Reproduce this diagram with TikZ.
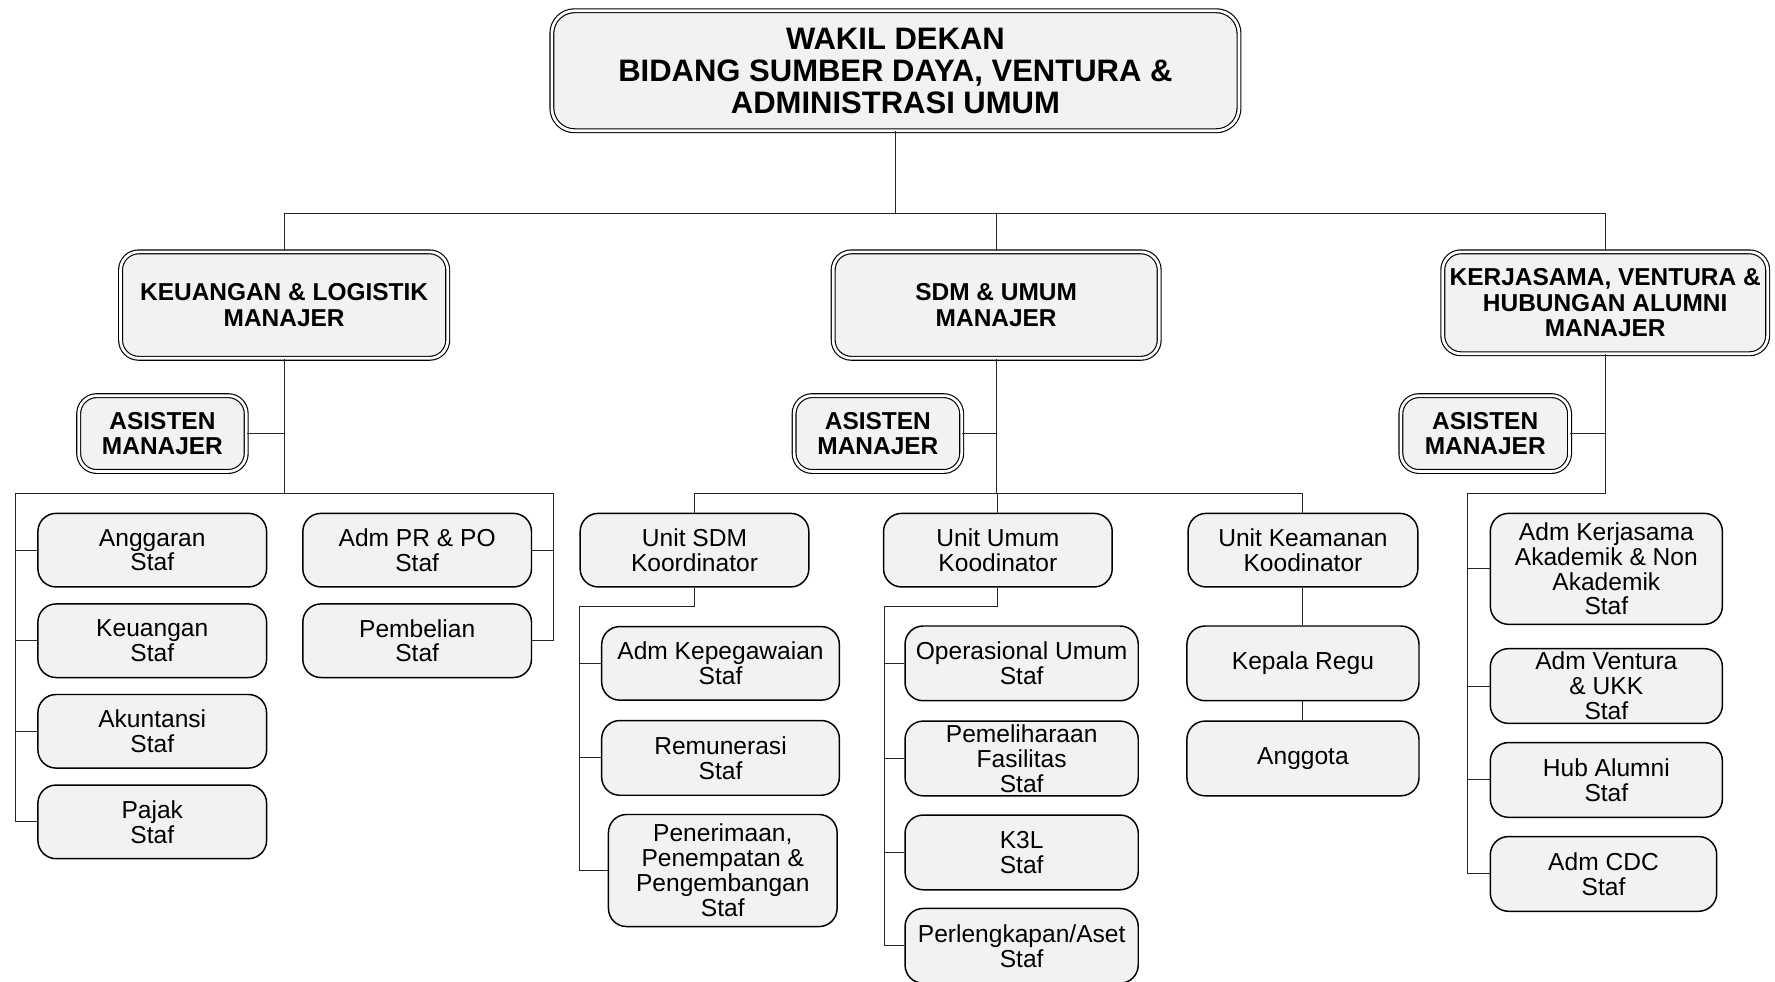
\documentclass[tikz,border=0pt]{standalone}
\usepackage{fontspec}
\setmainfont{Liberation Sans}
\definecolor{boxfill}{RGB}{242,242,242}
\begin{document}
\begin{tikzpicture}[x=1pt,y=-1pt,
  base/.style={draw=black, fill=boxfill, rounded corners=16pt, align=center, inner sep=0pt},
  staff/.style={base, line width=1.3pt, minimum width=202pt, minimum height=65pt, font=\fontsize{21.7}{22}\selectfont},
  dbl/.style={base, line width=1pt, double=white, double distance=2.4pt, font=\fontsize{21.6}{22.5}\selectfont\bfseries},
  conn/.style={draw=black!85, line width=0.9pt}]
\useasboundingbox (0,0) rectangle (1568,867);

% top
\node[dbl, minimum width=607pt, minimum height=106pt, rounded corners=20pt, font=\fontsize{27.4}{28.5}\selectfont\bfseries] (top) at (791,62.5)
  {WAKIL DEKAN\\BIDANG SUMBER DAYA, VENTURA \&\\ADMINISTRASI UMUM};

% managers
\node[dbl, minimum width=289pt, minimum height=94pt] (kl) at (251,269.5) {KEUANGAN \& LOGISTIK\\MANAJER};
\node[dbl, minimum width=288pt, minimum height=94pt] (sdm) at (880,269.5) {SDM \& UMUM\\MANAJER};
\node[dbl, minimum width=287pt, minimum height=90pt] (kvh) at (1418,267.5) {KERJASAMA, VENTURA \&\\HUBUNGAN ALUMNI\\MANAJER};

% asisten
\node[dbl, minimum width=148pt, minimum height=67pt] (kla) at (143.5,383) {ASISTEN\\MANAJER};
\node[dbl, minimum width=148pt, minimum height=67pt] (sdma) at (775.5,383) {ASISTEN\\MANAJER};
\node[dbl, minimum width=149pt, minimum height=67pt] (kvha) at (1312,383) {ASISTEN\\MANAJER};

% keuangan staff
\node[staff] (angg) at (134.5,486) {Anggaran\\Staf};
\node[staff] (keu) at (134.5,566) {Keuangan\\Staf};
\node[staff] (aku) at (134.5,646) {Akuntansi\\Staf};
\node[staff] (paj) at (134.5,726) {Pajak\\Staf};
\node[staff] (prpo) at (368.5,486) {Adm PR \& PO\\Staf};
\node[staff] (pemb) at (368.5,566) {Pembelian\\Staf};

% units
\node[staff] (usdm) at (613.5,486) {Unit SDM\\Koordinator};
\node[staff] (uum) at (881.5,486) {Unit Umum\\Koodinator};
\node[staff, minimum width=203pt] (ukea) at (1151,486) {Unit Keamanan\\Koodinator};

% sdm children
\node[staff, minimum width=210pt] (kepeg) at (636.5,586) {Adm Kepegawaian\\Staf};
\node[staff, minimum width=210pt, minimum height=66pt] (remu) at (636.5,669.5) {Remunerasi\\Staf};
\node[staff, minimum width=202pt, minimum height=99pt] (ppp) at (638.5,769) {Penerimaan,\\Penempatan \&\\Pengembangan\\Staf};

% umum children
\node[staff, minimum width=206pt, minimum height=66pt] (ops) at (902.5,586) {Operasional Umum\\Staf};
\node[staff, minimum width=206pt, minimum height=66pt] (peml) at (902.5,670) {Pemeliharaan\\Fasilitas\\Staf};
\node[staff, minimum width=206pt, minimum height=66pt] (k3l) at (902.5,753) {K3L\\Staf};
\node[staff, minimum width=206pt, minimum height=66pt] (perl) at (902.5,835.5) {Perlengkapan/Aset\\Staf};

% keamanan children
\node[staff, minimum width=205pt, minimum height=66pt] (kreg) at (1151,586) {Kepala Regu};
\node[staff, minimum width=205pt, minimum height=66pt] (angt) at (1151,670) {Anggota};

% kvh children
\node[staff, minimum width=205pt, minimum height=98pt] (akj) at (1419,502.5) {Adm Kerjasama\\Akademik \& Non\\Akademik\\Staf};
\node[staff, minimum width=205pt, minimum height=66pt] (avt) at (1419,606) {Adm Ventura\\\& UKK\\Staf};
\node[staff, minimum width=205pt, minimum height=66pt] (hub) at (1419,689) {Hub Alumni\\Staf};
\node[staff, minimum width=200pt, minimum height=66pt] (cdc) at (1416.5,772) {Adm CDC\\Staf};

% coordinates
\coordinate (bus) at (791,189);
\coordinate (klL) at (14,436);
\coordinate (klR) at (489,436);
\coordinate (sdmbus) at (880,436);
\coordinate (usdmL) at (512,536);
\coordinate (uumL) at (781,536);
\coordinate (kvhL) at (1296,436);

% top connectors
\draw[conn] (top.south) -- (bus);
\draw[conn] (kl.north) -- (kl.north |- bus) -- (kvh.north |- bus) -- (kvh.north);
\draw[conn] (sdm.north) -- (sdm.north |- bus);

% keuangan
\draw[conn] (kl.south) -- (kl.south |- klL);
\draw[conn] (kla.east) -- (kla.east -| kl.south);
\draw[conn] (klL |- paj.west) -- (klL) -- (klR) -- (klR |- pemb.east);
\draw[conn] (klL |- angg.west) -- (angg.west);
\draw[conn] (klL |- keu.west) -- (keu.west);
\draw[conn] (klL |- aku.west) -- (aku.west);
\draw[conn] (klL |- paj.west) -- (paj.west);
\draw[conn] (klR |- prpo.east) -- (prpo.east);
\draw[conn] (klR |- pemb.east) -- (pemb.east);

% sdm
\draw[conn] (sdm.south) -- (sdmbus);
\draw[conn] (sdma.east) -- (sdma.east -| sdm.south);
\draw[conn] (usdm.north) -- (usdm.north |- sdmbus) -- (ukea.north |- sdmbus) -- (ukea.north);
\draw[conn] (uum.north) -- (uum.north |- sdmbus);

\draw[conn] (usdm.south) -- (usdm.south |- usdmL) -- (usdmL) -- (usdmL |- ppp.west);
\draw[conn] (usdmL |- kepeg.west) -- (kepeg.west);
\draw[conn] (usdmL |- remu.west) -- (remu.west);
\draw[conn] (usdmL |- ppp.west) -- (ppp.west);

\draw[conn] (uum.south) -- (uum.south |- uumL) -- (uumL) -- (uumL |- perl.west);
\draw[conn] (uumL |- ops.west) -- (ops.west);
\draw[conn] (uumL |- peml.west) -- (peml.west);
\draw[conn] (uumL |- k3l.west) -- (k3l.west);
\draw[conn] (uumL |- perl.west) -- (perl.west);

\draw[conn] (ukea.south) -- (kreg.north);
\draw[conn] (kreg.south) -- (angt.north);

% kvh
\draw[conn] (kvh.south) -- (kvh.south |- kvhL) -- (kvhL) -- (kvhL |- cdc.west);
\draw[conn] (kvha.east) -- (kvha.east -| kvh.south);
\draw[conn] (kvhL |- akj.west) -- (akj.west);
\draw[conn] (kvhL |- avt.west) -- (avt.west);
\draw[conn] (kvhL |- hub.west) -- (hub.west);
\draw[conn] (kvhL |- cdc.west) -- (cdc.west);
\end{tikzpicture}
\end{document}
